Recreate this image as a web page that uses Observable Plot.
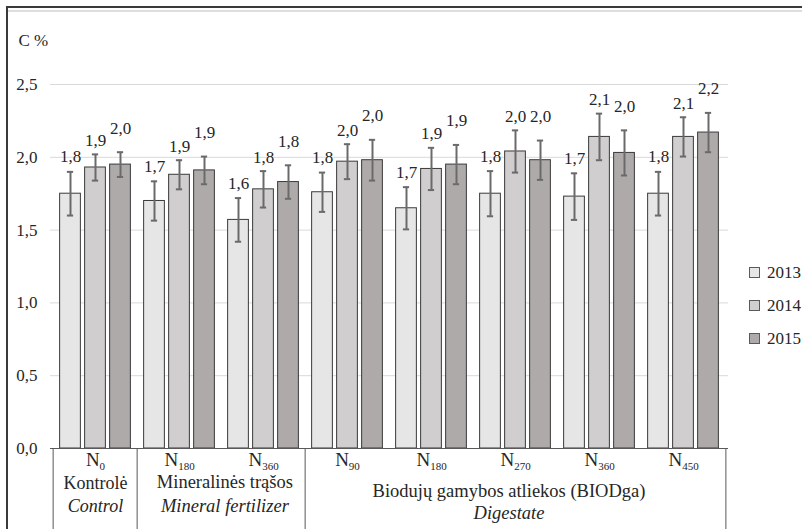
<!DOCTYPE html>
<html><head><meta charset="utf-8">
<script src="https://cdn.jsdelivr.net/npm/d3@7"></script>
<script src="https://cdn.jsdelivr.net/npm/@observablehq/plot@0.6"></script>
<style>
body{margin:0;background:#fff;}
#wrap{position:relative;width:802px;height:529px;overflow:hidden;font-family:'Liberation Serif',serif;color:#262626;background:#fff;}
#wrap svg{position:absolute;left:0;top:0;}
#wrap svg text{font-family:'Liberation Serif',serif;}
.legend-item{position:absolute;display:flex;align-items:center;font-size:17px;line-height:17px;}
.sw{width:9px;height:9px;border:1px solid #5a5a5a;margin-right:7px;}
.ln{position:absolute;}
</style></head><body><div id="wrap"></div>
<script>
// ---- data ----
const groups = ["Kontrolė N0", "Mineralinės N180", "Mineralinės N360", "BIODga N90", "BIODga N180", "BIODga N270", "BIODga N360", "BIODga N450"];
const doses = ["0", "180", "360", "90", "180", "270", "360", "450"];
const years = ["2013", "2014", "2015"];
const values2013 = [1.75, 1.70, 1.57, 1.76, 1.65, 1.75, 1.73, 1.75];
const values2014 = [1.93, 1.88, 1.78, 1.97, 1.92, 2.04, 2.14, 2.14];
const values2015 = [1.95, 1.91, 1.83, 1.98, 1.95, 1.98, 2.03, 2.17];
const errors2013 = [0.15, 0.135, 0.15, 0.135, 0.145, 0.155, 0.16, 0.15];
const errors2014 = [0.09, 0.10, 0.125, 0.12, 0.145, 0.145, 0.16, 0.135];
const errors2015 = [0.085, 0.095, 0.115, 0.14, 0.135, 0.135, 0.155, 0.135];
const labels2013 = ["1,8", "1,7", "1,6", "1,8", "1,7", "1,8", "1,7", "1,8"];
const labels2014 = ["1,9", "1,9", "1,8", "2,0", "1,9", "2,0", "2,1", "2,1"];
const labels2015 = ["2,0", "1,9", "1,8", "2,0", "1,9", "2,0", "2,0", "2,2"];
const categories = ["Kontrolė", "Mineralinės trąšos", "Biodujų gamybos atliekos (BIODga)"];
const categoriesEn = ["Control", "Mineral fertilizer", "Digestate"];
const categorySpans = [1, 2, 5];
const yTicks = [0, 0.5, 1.0, 1.5, 2.0, 2.5];
const yLabel = "C %";
const colors = ["#e7e6e6", "#d0cece", "#aeaaaa"];

// ---- layout ----
const W = 802, H = 529, mL = 50, mR = 74, mT = 84, mB = 81;
const bw = (W - mL - mR) / groups.length;
const pxPerUnit = (H - mT - mB) / 2.5;
const barW = 21.5, barInset = (bw - barW) / 2, capInset = (bw - 7) / 2;
const offsets = [-25, 0, 25];
const labelDy = [-15, -14, -24];
const fmt = v => v.toFixed(1).replace(".", ",");
const FONT = "'Liberation Serif', serif";

const values = [values2013, values2014, values2015];
const errors = [errors2013, errors2014, errors2015];
const labels = [labels2013, labels2014, labels2015];
const rows = [];
years.forEach((year, j) => groups.forEach((g, i) => rows.push({group: g, year, j, value: values[j][i], err: errors[j][i], label: labels[j][i]})));
const groupRows = groups.map((g, i) => ({group: g, dose: doses[i]}));

const marks = [];
marks.push(Plot.ruleY(yTicks.filter(t => t > 0), {stroke: "#d9d9d9", strokeWidth: 1}));
years.forEach((year, j) => {
  const d = rows.filter(r => r.j === j);
  marks.push(Plot.barY(d, {x: "group", y: "value", fill: colors[j], stroke: "#3a3a3a", strokeWidth: 1, insetLeft: barInset, insetRight: barInset, dx: offsets[j]}));
  marks.push(Plot.ruleX(d, {x: "group", y1: r => r.value - r.err, y2: r => r.value + r.err, stroke: "#6a6a6a", strokeWidth: 2, dx: offsets[j]}));
  marks.push(Plot.tickY(d, {x: "group", y: r => r.value - r.err, stroke: "#6a6a6a", strokeWidth: 2, insetLeft: capInset, insetRight: capInset, dx: offsets[j]}));
  marks.push(Plot.tickY(d, {x: "group", y: r => r.value + r.err, stroke: "#6a6a6a", strokeWidth: 2, insetLeft: capInset, insetRight: capInset, dx: offsets[j]}));
  marks.push(Plot.text(d, {x: "group", y: r => r.value + r.err, text: "label", dx: offsets[j], dy: labelDy[j], fontSize: 17, fontFamily: FONT, fill: "#262626"}));
});
marks.push(Plot.ruleY([0], {stroke: "#595959", strokeWidth: 1}));
// table dividers
const yBottom = -(mB + 10) / pxPerUnit;
let start = 0;
const divStarts = [];
categorySpans.forEach(s => { divStarts.push(groups[start]); start += s; });
marks.push(Plot.ruleX(divStarts, {x: d => d, y1: 0, y2: yBottom, dx: -bw / 2, stroke: "#595959", strokeWidth: 1}));
marks.push(Plot.ruleX([groups[groups.length - 1]], {x: d => d, y1: 0, y2: yBottom, dx: bw / 2, stroke: "#595959", strokeWidth: 1}));
// dose labels
marks.push(Plot.text(groupRows, {x: "group", text: d => "N" + d.dose, frameAnchor: "bottom", dy: 17, fontSize: 19, fontFamily: FONT, fill: "#262626"}));
// categories
start = 0;
const catDy = [[40, 63], [39, 63], [48, 70]];
const catDx = [0, 3, -8];
const catSize = [18, 18.5, 18.5];
categories.forEach((c, k) => {
  const first = groups[start];
  const dx = (categorySpans[k] - 1) * bw / 2 + catDx[k];
  marks.push(Plot.text([c], {x: () => first, text: d => d, frameAnchor: "bottom", dx, dy: catDy[k][0], fontSize: catSize[k], fontFamily: FONT, fill: "#262626"}));
  marks.push(Plot.text([categoriesEn[k]], {x: () => first, text: d => d, frameAnchor: "bottom", dx, dy: catDy[k][1], fontSize: catSize[k], fontFamily: FONT, fontStyle: "italic", fill: "#262626"}));
  start += categorySpans[k];
});
marks.push(Plot.text([yLabel], {frameAnchor: "top-left", text: d => d, dx: -32, dy: -51, textAnchor: "start", fontSize: 17, fontFamily: FONT, fill: "#262626"}));

const chart = Plot.plot({
  width: W, height: H,
  marginLeft: mL, marginRight: mR, marginTop: mT, marginBottom: mB,
  style: {fontFamily: FONT, fontSize: "17px", color: "#262626", background: "transparent"},
  x: {domain: groups, padding: 0, axis: null},
  y: {domain: [0, 2.5], ticks: yTicks, tickFormat: fmt, tickSize: 0, tickPadding: 13, label: null},
  marks
});
d3.select(chart).selectAll("text").attr("font-family", FONT).each(function () {
  const t = this.textContent;
  if (!/^N\d+$/.test(t)) return;
  const s = d3.select(this);
  s.text("N");
  s.append("tspan").attr("font-size", 11).attr("dy", "0.45em").text(t.slice(1));
});
const wrap = document.getElementById("wrap");
wrap.appendChild(chart);
// frame lines
[["left:6px;top:6px;width:796px;height:1.5px;background:#3a3a3a"],
 ["left:8px;top:10px;width:794px;height:2px;background:#dedede"],
 ["left:6px;top:6px;width:1.5px;height:523px;background:#3a3a3a"]].forEach(([st]) => {
  const d = document.createElement("div"); d.className = "ln"; d.style.cssText = st; wrap.appendChild(d);
});
// legend
years.forEach((y, j) => {
  const it = document.createElement("div");
  it.className = "legend-item";
  it.style.left = "749px";
  it.style.top = (264 + j * 33) + "px";
  it.innerHTML = `<span class="sw" style="background:${colors[j]}"></span><span>${y}</span>`;
  wrap.appendChild(it);
});
</script></body></html>
